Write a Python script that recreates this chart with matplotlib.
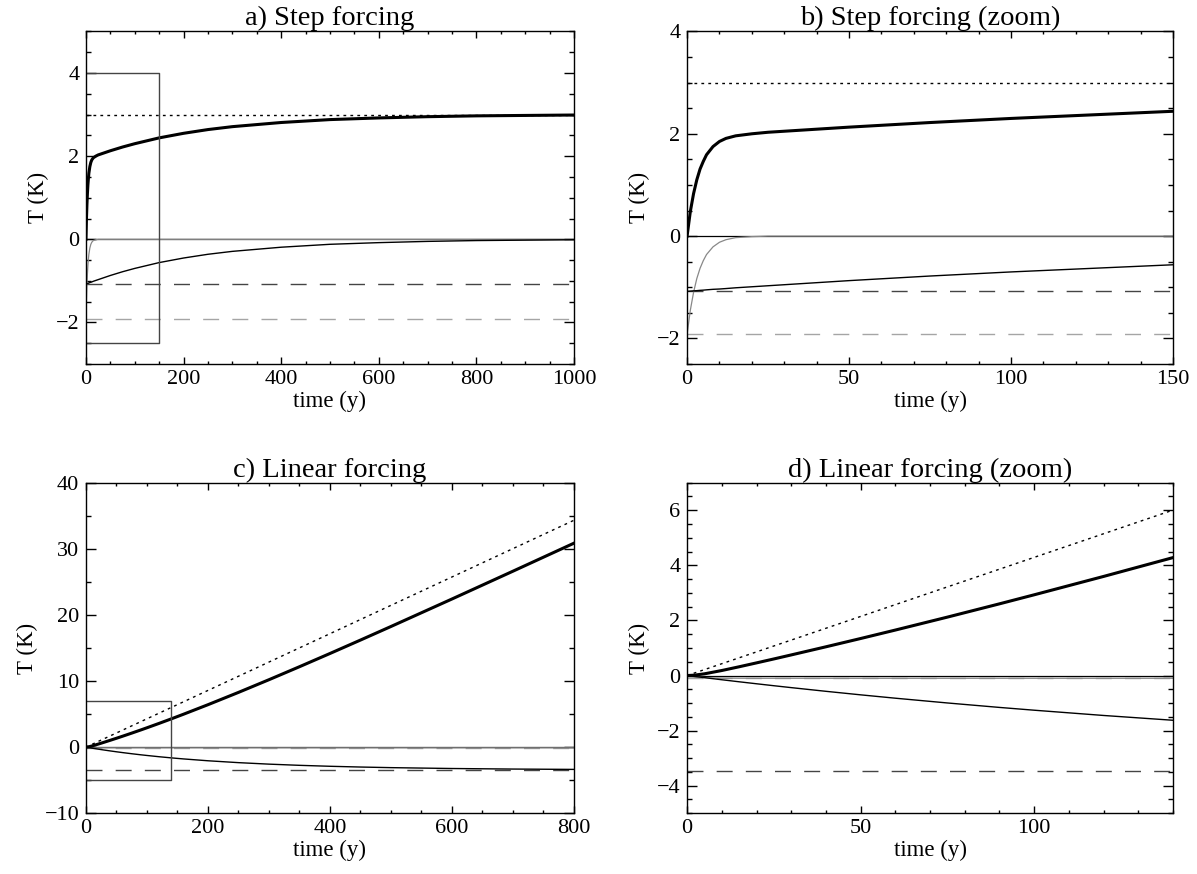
import numpy as np
import matplotlib
matplotlib.use("Agg")
import matplotlib.pyplot as plt
from matplotlib.ticker import MultipleLocator

plt.rcParams['font.family'] = ['Liberation Serif', 'DejaVu Serif']

### DATOS ###
# step forcing (panels a, b)
t_step = [0, 1, 2, 3, 4, 5, 6, 8, 10, 12, 15, 20, 25, 30, 40, 50, 75, 100, 125, 150,
          200, 250, 300, 400, 500, 600, 700, 800, 900, 1000]
step_total = [0.00, 0.48, 0.83, 1.10, 1.31, 1.46, 1.59, 1.75, 1.85, 1.91, 1.96, 2.00, 2.03, 2.05,
              2.09, 2.13, 2.22, 2.30, 2.37, 2.44, 2.55, 2.64, 2.71, 2.81, 2.88, 2.92, 2.95, 2.97,
              2.98, 2.99]
step_fast = [-1.92, -1.45, -1.10, -0.83, -0.63, -0.48, -0.36, -0.21, -0.12, -0.07, -0.03, -0.01,
             0.0, 0.0, 0.0, 0.0, 0.0, 0.0, 0.0, 0.0, 0.0, 0.0, 0.0, 0.0, 0.0, 0.0, 0.0, 0.0, 0.0, 0.0]
step_slow = [-1.08, -1.075, -1.07, -1.066, -1.06, -1.056, -1.05, -1.04, -1.034, -1.025, -1.01,
             -0.99, -0.97, -0.95, -0.91, -0.87, -0.78, -0.70, -0.63, -0.56, -0.45, -0.36, -0.29,
             -0.19, -0.12, -0.08, -0.05, -0.03, -0.02, -0.01]
step_equil = 3.0
step_slow_eq = -1.08
step_fast_eq = -1.92

# linear forcing (panels c, d)
t_lin = [0, 2, 5, 10, 15, 20, 25, 30, 40, 50, 60, 75, 90, 100, 120, 140, 160, 200, 250, 300,
         350, 400, 450, 500, 600, 700, 800]
lin_equil = [0.0, 0.086, 0.215, 0.429, 0.644, 0.858, 1.073, 1.287, 1.716, 2.145, 2.574, 3.218,
             3.861, 4.29, 5.148, 6.006, 6.864, 8.58, 10.725, 12.87, 15.015, 17.16, 19.305, 21.45,
             25.74, 30.03, 34.32]
lin_total = [0.0, 0.012, 0.062, 0.182, 0.318, 0.459, 0.602, 0.748, 1.043, 1.344, 1.651, 2.121,
             2.603, 2.931, 3.598, 4.282, 4.982, 6.42, 8.281, 10.2, 12.165, 14.166, 16.197, 18.25,
             22.409, 26.616, 30.853]
lin_slow = [0.0, -0.031, -0.077, -0.153, -0.227, -0.299, -0.370, -0.439, -0.573, -0.701, -0.823,
            -0.996, -1.158, -1.259, -1.450, -1.624, -1.782, -2.060, -2.344, -2.570, -2.750,
            -2.894, -3.008, -3.100, -3.231, -3.314, -3.367]
lin_fast = [0.0, -0.043, -0.075, -0.094, -0.098, -0.1, -0.1, -0.1, -0.1, -0.1, -0.1, -0.1, -0.1,
            -0.1, -0.1, -0.1, -0.1, -0.1, -0.1, -0.1, -0.1, -0.1, -0.1, -0.1, -0.1, -0.1, -0.1]
lin_slow_eq = -3.46
lin_fast_eq = -0.1

# zoom boxes: (t0, t1, T0, T1)
box_step = [0, 150, -2.5, 4]
box_lin = [0, 140, -5, 7]

GRIS = '#888888'
GRIS_CLARO = '#a5a5a5'
OSCURO = '#444444'
PUNTOS = (0, (2, 3))
RAYAS = (0, (11.5, 9.5))


def estilo(ax, xlim, ylim, xmaj, xmin, ymaj, ymin, titulo):
    ax.set_xlim(xlim)
    ax.set_ylim(ylim)
    ax.xaxis.set_major_locator(MultipleLocator(xmaj))
    ax.xaxis.set_minor_locator(MultipleLocator(xmin))
    ax.yaxis.set_major_locator(MultipleLocator(ymaj))
    ax.yaxis.set_minor_locator(MultipleLocator(ymin))
    ax.tick_params(which='both', direction='in', top=True, right=True, labelsize=16, width=1.0)
    ax.tick_params(axis='x', which='major', length=4.8, pad=4.3)
    ax.tick_params(axis='x', which='minor', length=2.4)
    ax.tick_params(axis='y', which='major', length=7.2, pad=4.8)
    ax.tick_params(axis='y', which='minor', length=3.6)
    for s in ax.spines.values():
        s.set_linewidth(1.0)
    ax.set_title(titulo, fontsize=20.5, pad=2)
    ax.set_xlabel('time (y)', fontsize=16.5, labelpad=1)
    ax.set_ylabel('T (K)', fontsize=16.5, labelpad=5)


def caja(ax, b):
    ax.plot([b[0], b[1], b[1], b[0]], [b[3], b[3], b[2], b[2]], '-', color=OSCURO, lw=1.0)


def panel_step(ax):
    ax.axhline(step_equil, color='k', lw=1.0, ls=PUNTOS)
    ax.axhline(step_slow_eq, color=OSCURO, lw=1.0, ls=RAYAS)
    ax.axhline(step_fast_eq, color=GRIS_CLARO, lw=1.0, ls=RAYAS)
    ax.axhline(0, color='k', lw=0.9)
    ax.plot(t_step, step_fast, '-', color=GRIS, lw=0.9)
    ax.plot(t_step, step_slow, '-', color='k', lw=1.0)
    ax.plot(t_step, step_total, '-', color='k', lw=2.2)


def panel_lin(ax):
    ax.plot(t_lin, lin_equil, color='k', lw=1.0, ls=PUNTOS)
    ax.axhline(lin_slow_eq, color=OSCURO, lw=1.0, ls=RAYAS)
    ax.axhline(lin_fast_eq, color=GRIS_CLARO, lw=1.0, ls=RAYAS)
    ax.axhline(0, color='k', lw=0.9)
    ax.plot(t_lin, lin_fast, '-', color=GRIS, lw=0.9)
    ax.plot(t_lin, lin_slow, '-', color='k', lw=1.0)
    ax.plot(t_lin, lin_total, '-', color='k', lw=2.2)


fig = plt.figure(figsize=(11.97, 8.74), dpi=100)
ax1 = fig.add_axes([0.0718, 0.5835, 0.4077, 0.3805])
ax2 = fig.add_axes([0.5740, 0.5835, 0.4060, 0.3805])
ax3 = fig.add_axes([0.0718, 0.0695, 0.4077, 0.3782])
ax4 = fig.add_axes([0.5740, 0.0695, 0.4060, 0.3782])

panel_step(ax1)
caja(ax1, box_step)
estilo(ax1, (0, 1000), (-3, 5), 200, 50, 2, 0.5, 'a) Step forcing')

panel_step(ax2)
estilo(ax2, (0, 150), (-2.5, 4), 50, 10, 2, 0.5, 'b) Step forcing (zoom)')

panel_lin(ax3)
caja(ax3, box_lin)
estilo(ax3, (0, 800), (-10, 40), 200, 50, 10, 5, 'c) Linear forcing')

panel_lin(ax4)
estilo(ax4, (0, 140), (-5, 7), 50, 10, 2, 0.5, 'd) Linear forcing (zoom)')

fig.savefig('out.png', dpi=100)
